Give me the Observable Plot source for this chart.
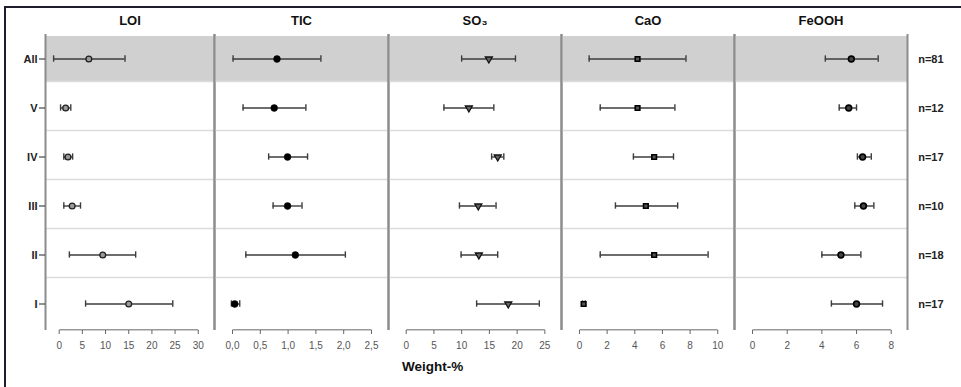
<!DOCTYPE html>
<html><head><meta charset="utf-8">
<script src="https://cdn.jsdelivr.net/npm/d3@7"></script>
<script src="https://cdn.jsdelivr.net/npm/@observablehq/plot@0.6"></script>
<style>
body{margin:0;background:#fff;font-family:"Liberation Sans",Arial,sans-serif;}
#chart{position:relative;width:961px;height:387px;overflow:hidden;}
#chart svg{position:absolute;top:0;}
#frame{position:absolute;left:4px;top:6px;width:980px;height:400px;border-top:2px solid #1d1d2b;border-left:2px solid #1d1d2b;}
#xlabel{position:absolute;left:402px;top:359px;font-weight:bold;font-size:13.5px;color:#111;}
</style></head><body>
<div id="chart"><div id="frame"></div><div id="xlabel">Weight-%</div></div>
<script>
const rows = ["All", "V", "IV", "III", "II", "I"];
const nLabels = ["n=81", "n=12", "n=17", "n=10", "n=18", "n=17"];
const panelTitles = ["LOI", "TIC", "SO₃", "CaO", "FeOOH"];

const loiMean = [6.4, 1.4, 1.9, 2.8, 9.4, 15.0];
const loiLow  = [-1.2, 0.3, 1.0, 1.0, 2.2, 5.7];
const loiHigh = [14.2, 2.5, 2.9, 4.6, 16.5, 24.5];

const ticMean = [0.80, 0.75, 0.99, 0.99, 1.13, 0.04];
const ticLow  = [0.01, 0.19, 0.65, 0.73, 0.24, -0.02];
const ticHigh = [1.59, 1.32, 1.35, 1.25, 2.03, 0.13];

const so3Mean = [14.9, 11.3, 16.5, 13.0, 13.1, 18.4];
const so3Low  = [10.0, 6.8, 15.4, 9.6, 9.9, 12.7];
const so3High = [19.7, 15.8, 17.6, 16.2, 16.5, 24.0];

const caoMean = [4.2, 4.2, 5.4, 4.8, 5.4, 0.3];
const caoLow  = [0.7, 1.5, 3.9, 2.6, 1.5, 0.22];
const caoHigh = [7.7, 6.9, 6.8, 7.1, 9.3, 0.42];

const feoohMean = [5.7, 5.55, 6.35, 6.4, 5.1, 6.0];
const feoohLow  = [4.2, 5.0, 6.05, 5.9, 4.0, 4.55];
const feoohHigh = [7.25, 6.0, 6.85, 7.0, 6.25, 7.5];

const loiTicks = [0, 5, 10, 15, 20, 25, 30];
const ticTicks = [0, 0.5, 1, 1.5, 2, 2.5];
const so3Ticks = [0, 5, 10, 15, 20, 25];
const caoTicks = [0, 2, 4, 6, 8, 10];
const feoohTicks = [0, 2, 4, 6, 8];

const commaFmt = d => d3.format(".1f")(d).replace(".", ",");

const panels = [
  {title: panelTitles[0], mean: loiMean, low: loiLow, high: loiHigh, ticks: loiTicks, fmt: d => d, domain: [-2.95, 33.5],
   dot: {symbol: "circle", r: 2.9, fill: "#9a9a9a", stroke: "#222", strokeWidth: 1.3}},
  {title: panelTitles[1], mean: ticMean, low: ticLow, high: ticHigh, ticks: ticTicks, fmt: commaFmt, domain: [-0.324, 2.806],
   dot: {symbol: "circle", r: 3.4, fill: "#000", stroke: "#000", strokeWidth: 0.5}},
  {title: panelTitles[2], mean: so3Mean, low: so3Low, high: so3High, ticks: so3Ticks, fmt: d => d, domain: [-3.19, 28.0],
   dot: {symbol: "triangle", r: 2.6, fill: "#666", stroke: "#111", strokeWidth: 1.3, rotate: 180}},
  {title: panelTitles[3], mean: caoMean, low: caoLow, high: caoHigh, ticks: caoTicks, fmt: d => d, domain: [-1.30, 11.21],
   dot: {symbol: "square", r: 2.6, fill: "#555", stroke: "#000", strokeWidth: 1.6}},
  {title: panelTitles[4], mean: feoohMean, low: feoohLow, high: feoohHigh, ticks: feoohTicks, fmt: d => d, domain: [-1.04, 8.94],
   dot: {symbol: "circle", r: 2.9, fill: "#444", stroke: "#000", strokeWidth: 1.6}}
];

const L = [45, 214, 388, 561, 734];
const R = [214, 388, 561, 734, 907];
const TOP = 32, BOTTOM = 330, H = 387;
const bw = (BOTTOM - TOP) / rows.length;
const barColor = "#3c3c3c";
const chart = document.getElementById("chart");

panels.forEach((p, i) => {
  const ml = i === 0 ? 45 : 4;
  const mr = i === 4 ? 54 : 4;
  const width = ml + (R[i] - L[i]) + mr;
  const data = rows.map((r, j) => ({row: r, lo: p.low[j], mean: p.mean[j], hi: p.high[j], n: nLabels[j]}));
  const [x0, x1] = p.domain;
  const marks = [
    Plot.barX(["All"], {y: d => d, x1: x0, x2: x1, fill: "#d0d0d0", insetTop: 2, insetBottom: 1.7}),
    Plot.ruleY(rows.slice(1), {y: d => d, dy: -bw / 2 - 1.7, stroke: "#dcdcdc", strokeWidth: 1.5}),
    Plot.ruleX([x0, x1], {stroke: "#8c8c8c", strokeWidth: 2, insetTop: 2}),
    Plot.link([0], {x1: p.ticks[0], x2: p.ticks[p.ticks.length - 1], y1: () => "I", y2: () => "I", dy: bw / 2 + 1, stroke: "#666", strokeWidth: 1}),
    Plot.axisX({ticks: p.ticks, tickFormat: p.fmt, tickSize: 4, tickPadding: 7, fontSize: 10, color: "#555", stroke: "#666", label: null}),
    Plot.ruleY(data, {y: "row", x1: "lo", x2: "hi", stroke: barColor, strokeWidth: 1.4}),
    Plot.tickX(data, {x: "lo", y: "row", stroke: barColor, strokeWidth: 1.4, insetTop: bw / 2 - 3.5, insetBottom: bw / 2 - 3.5}),
    Plot.tickX(data, {x: "hi", y: "row", stroke: barColor, strokeWidth: 1.4, insetTop: bw / 2 - 3.5, insetBottom: bw / 2 - 3.5}),
    Plot.dot(data, {x: "mean", y: "row", ...p.dot}),
    Plot.text([p.title], {text: d => d, frameAnchor: "top", lineAnchor: "middle", dy: -12, fontWeight: "bold", fontSize: 13, fill: "#111"})
  ];
  if (i === 0) {
    marks.push(Plot.axisY({tickSize: 6, tickPadding: 2, fontWeight: "bold", fontSize: 11, color: "#222", label: null}));
  }
  if (i === 4) {
    marks.push(Plot.text(data, {y: "row", text: "n", frameAnchor: "right", textAnchor: "start", dx: 10.7, fontWeight: "bold", fontSize: 11, fill: "#222"}));
  }
  const svg = Plot.plot({
    width, height: H,
    marginLeft: ml, marginRight: mr, marginTop: TOP, marginBottom: H - BOTTOM,
    x: {domain: [x0, x1]},
    y: {type: "band", domain: rows, padding: 0, axis: null},
    style: {background: "transparent", overflow: "visible", fontFamily: "Liberation Sans, Arial, sans-serif"},
    marks
  });
  svg.style.left = (L[i] - ml) + "px";
  chart.appendChild(svg);
});
</script>
</body></html>
